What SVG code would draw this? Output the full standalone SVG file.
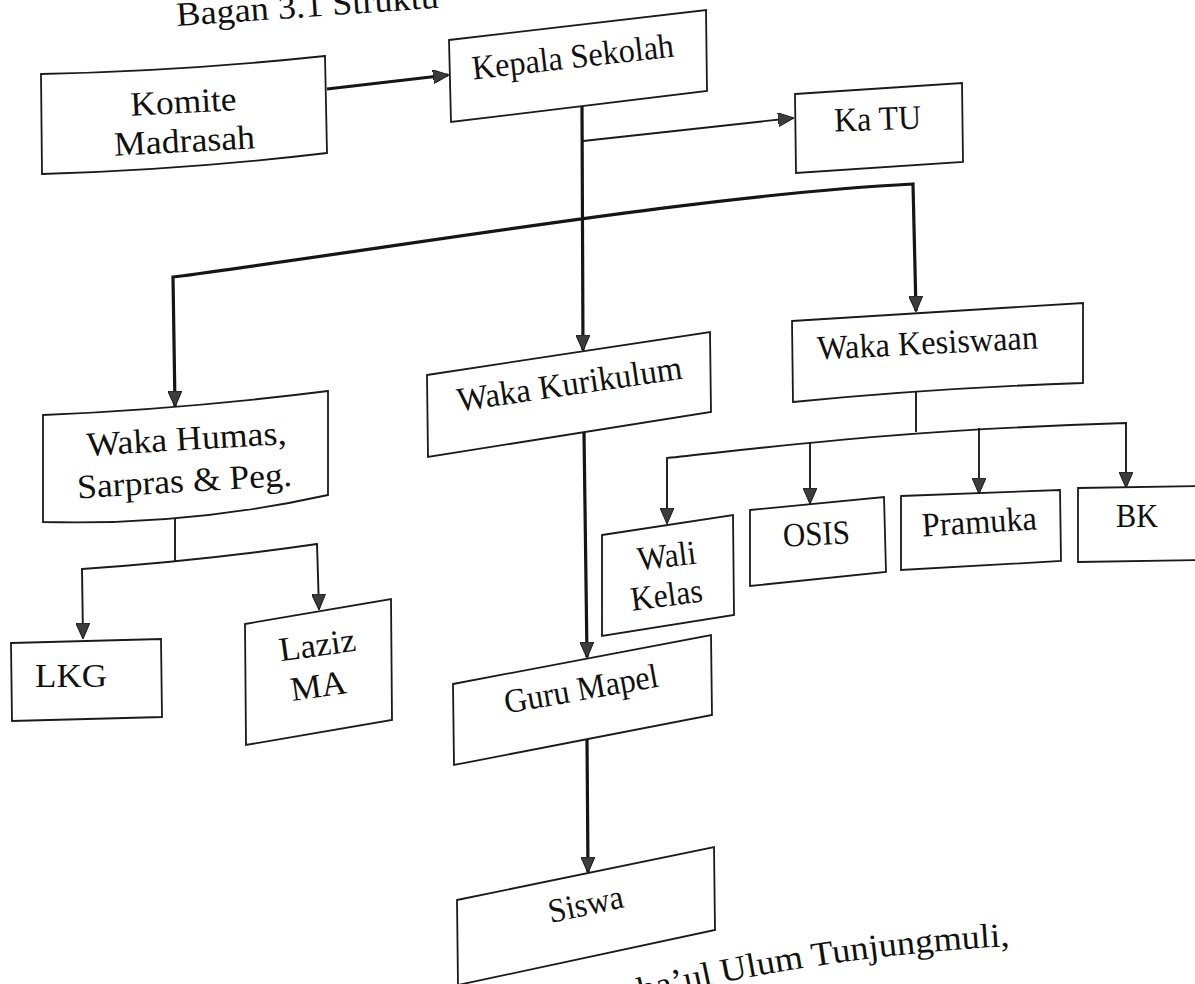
<svg xmlns="http://www.w3.org/2000/svg" width="1195" height="984" viewBox="0 0 1195 984">
  <defs>
    <style>
      .box { fill: #ffffff; stroke: #1a1a1a; stroke-width: 1.8; stroke-linejoin: miter; }
      .lbl { font-family: "Liberation Serif", "Times New Roman", serif; font-size: 34px; fill: #111111; text-anchor: middle; }
      .thick { fill: none; stroke: #151515; stroke-width: 3.2; stroke-linejoin: miter; }
      .thin { fill: none; stroke: #1a1a1a; stroke-width: 1.9; stroke-linejoin: miter; }
    </style>
    <marker id="arr" viewBox="0 0 16 14" refX="15" refY="7" markerWidth="16" markerHeight="14" markerUnits="userSpaceOnUse" orient="auto-start-reverse">
      <path d="M0,0 L16,7 L0,14 Z" fill="#3c3c3c" stroke="#1a1a1a" stroke-width="1"/>
    </marker>
    <path id="capline" d="M540,1030 Q760,960 1010,946"/>
  </defs>
  <rect width="1195" height="984" fill="#ffffff"/>

  <text class="lbl" style="text-anchor:start" x="177" y="26" textLength="263" lengthAdjust="spacingAndGlyphs" transform="rotate(-4 177 26)">Bagan 3.1 Struktu</text>

  <g id="connectors">
    <line class="thick" x1="327" y1="89" x2="448" y2="75" marker-end="url(#arr)"/>
    <line class="thick" x1="582" y1="106" x2="583" y2="350" marker-end="url(#arr)"/>
    <line class="thin" x1="583" y1="141" x2="793" y2="118" marker-end="url(#arr)"/>
    <path class="thick" d="M175,406 L173,277 C400,247 700,195 913,184 L916,311" marker-start="url(#arr)" marker-end="url(#arr)"/>
    <line class="thick" x1="584" y1="432" x2="587" y2="657" marker-end="url(#arr)"/>
    <line class="thick" x1="587" y1="739" x2="588" y2="872" marker-end="url(#arr)"/>
    <line class="thin" x1="175" y1="518" x2="175" y2="561"/>
    <path class="thin" d="M83,638 L82,569 Q200,561 317,544 L319,609" marker-start="url(#arr)" marker-end="url(#arr)"/>
    <line class="thin" x1="916" y1="392" x2="916" y2="432"/>
    <path class="thin" d="M667,523 L667,458 C780,446 900,430 1126,423 L1126,487" marker-start="url(#arr)" marker-end="url(#arr)"/>
    <line class="thin" x1="810" y1="442" x2="810" y2="503" marker-end="url(#arr)"/>
    <line class="thin" x1="979" y1="428" x2="979" y2="493" marker-end="url(#arr)"/>
  </g>

  <g id="komite">
    <path class="box" d="M41,74 Q183,71 325,56 L327,153 Q184,170 42,174 Z"/>
    <text class="lbl" x="184" y="113" textLength="106" lengthAdjust="spacingAndGlyphs" transform="rotate(-3 184 113)">Komite</text>
    <text class="lbl" x="185" y="152" textLength="141" lengthAdjust="spacingAndGlyphs" transform="rotate(-3 185 152)">Madrasah</text>
  </g>

  <g id="kepala">
    <polygon class="box" points="449,40 706,10 707,91 451,122"/>
    <text class="lbl" x="574" y="68" textLength="203" lengthAdjust="spacingAndGlyphs" transform="rotate(-6.5 574 68)">Kepala Sekolah</text>
  </g>

  <g id="katu">
    <polygon class="box" points="795,94 962,83 963,162 796,173"/>
    <text class="lbl" x="878" y="130" textLength="87" lengthAdjust="spacingAndGlyphs" transform="rotate(-2 878 130)">Ka TU</text>
  </g>

  <g id="humas">
    <path class="box" d="M43,415 Q185,409 328,391 L328,495 Q188,526 43,522 Z"/>
    <text class="lbl" x="187" y="450" textLength="200" lengthAdjust="spacingAndGlyphs" transform="rotate(-3.4 187 450)">Waka Humas,</text>
    <text class="lbl" x="185" y="492" textLength="215" lengthAdjust="spacingAndGlyphs" transform="rotate(-3.4 185 492)">Sarpras &amp; Peg.</text>
  </g>

  <g id="lkg">
    <polygon class="box" points="11,643 161,639 162,717 12,721"/>
    <text class="lbl" style="text-anchor:start" x="35" y="687" textLength="72" lengthAdjust="spacingAndGlyphs">LKG</text>
  </g>

  <g id="laziz">
    <polygon class="box" points="245,624 391,599 392,720 246,745"/>
    <text class="lbl" x="319" y="656" textLength="77" lengthAdjust="spacingAndGlyphs" transform="rotate(-8 319 656)">Laziz</text>
    <text class="lbl" x="320" y="697" textLength="56" lengthAdjust="spacingAndGlyphs" transform="rotate(-8 320 697)">MA</text>
  </g>

  <g id="kurikulum">
    <polygon class="box" points="427,375 710,332 711,412 428,457"/>
    <text class="lbl" x="571" y="395" textLength="227" lengthAdjust="spacingAndGlyphs" transform="rotate(-8.3 571 395)">Waka Kurikulum</text>
  </g>

  <g id="kesiswaan">
    <path class="box" d="M792,321 L1083,303 L1083,383 Q935,388 793,402 Z"/>
    <text class="lbl" x="928" y="354" textLength="221" lengthAdjust="spacingAndGlyphs" transform="rotate(-2.9 928 354)">Waka Kesiswaan</text>
  </g>

  <g id="wali">
    <polygon class="box" points="602,535 733,515 734,615 602,636"/>
    <text class="lbl" x="668" y="567" textLength="59" lengthAdjust="spacingAndGlyphs" transform="rotate(-7 668 567)">Wali</text>
    <text class="lbl" x="668" y="606" textLength="72" lengthAdjust="spacingAndGlyphs" transform="rotate(-7.5 668 606)">Kelas</text>
  </g>

  <g id="osis">
    <polygon class="box" points="750,510 884,497 886,572 750,586"/>
    <text class="lbl" x="817" y="545" textLength="67" lengthAdjust="spacingAndGlyphs" transform="rotate(-3 817 545)">OSIS</text>
  </g>

  <g id="pramuka">
    <polygon class="box" points="901,496 1060,490 1061,561 901,570"/>
    <text class="lbl" x="980" y="533" textLength="115" lengthAdjust="spacingAndGlyphs" transform="rotate(-3.5 980 533)">Pramuka</text>
  </g>

  <g id="bk">
    <polygon class="box" points="1078,488 1200,486 1200,560 1078,562"/>
    <text class="lbl" x="1137" y="527" textLength="42" lengthAdjust="spacingAndGlyphs">BK</text>
  </g>

  <g id="guru">
    <polygon class="box" points="453,684 711,635 712,715 454,765"/>
    <text class="lbl" x="583" y="700" textLength="156" lengthAdjust="spacingAndGlyphs" transform="rotate(-10 583 700)">Guru Mapel</text>
  </g>

  <g id="siswa">
    <polygon class="box" points="457,900 714,847 715,930 458,985"/>
    <text class="lbl" x="588" y="915" textLength="76" lengthAdjust="spacingAndGlyphs" transform="rotate(-12 588 915)">Siswa</text>
  </g>

  <text class="lbl" style="text-anchor:end" font-size="36"><textPath href="#capline" startOffset="100%" textLength="451" lengthAdjust="spacingAndGlyphs">Memba’ul Ulum Tunjungmuli,</textPath></text>
</svg>
